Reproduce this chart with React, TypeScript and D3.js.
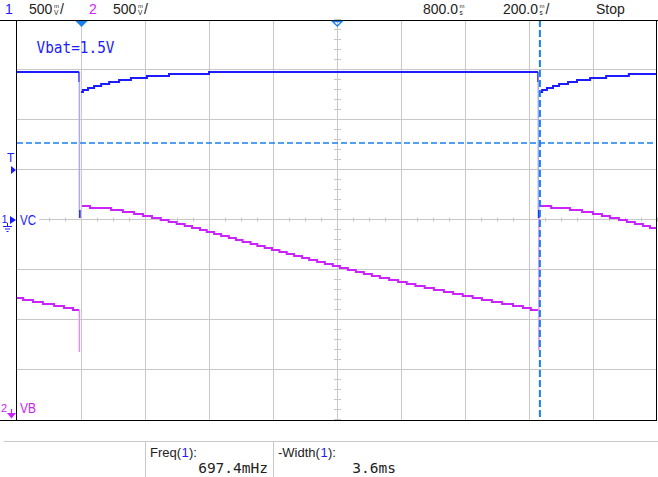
import { useEffect } from 'react'
import * as d3 from 'd3'

// Oscilloscope capture: time in ms, both channels in volts (500 mV/div)
type Pt = [number, number]

const ch1Pre: Pt[] = [[-200, 1.48], [-6, 1.48]]
const ch1Mid: Pt[] = [
  [0, 1.28], [6, 1.3], [22, 1.32], [41, 1.34], [63, 1.36], [88, 1.38],
  [119, 1.4], [156, 1.42], [206, 1.44], [275, 1.46], [400, 1.48], [1428, 1.48],
]
const ch1Post: Pt[] = [
  [1434, 1.28], [1441, 1.3], [1456, 1.32], [1475, 1.34], [1494, 1.36], [1522, 1.38],
  [1550, 1.4], [1591, 1.42], [1641, 1.44], [1712, 1.46], [1800, 1.46],
]

const ch2Pre: Pt[] = [
  [-200, 1.22], [-181, 1.2], [-150, 1.18], [-119, 1.16], [-84, 1.14], [-53, 1.12], [-25, 1.1], [-6, 1.1],
]
const ch2Mid: Pt[] = [
  [3, 2.14], [28, 2.12], [94, 2.1], [131, 2.08], [166, 2.06], [194, 2.04], [222, 2.02], [249, 2.0],
  [274, 1.98], [299, 1.96], [324, 1.94], [347, 1.92], [372, 1.9], [393, 1.88], [416, 1.86], [438, 1.84],
  [462, 1.82], [484, 1.8], [505, 1.78], [530, 1.76], [551, 1.74], [574, 1.72], [597, 1.7], [620, 1.68],
  [643, 1.66], [666, 1.64], [691, 1.62], [713, 1.6], [738, 1.58], [762, 1.56], [787, 1.54], [809, 1.52],
  [834, 1.5], [859, 1.48], [884, 1.46], [909, 1.44], [934, 1.42], [963, 1.4], [991, 1.38], [1018, 1.36],
  [1045, 1.34], [1074, 1.32], [1103, 1.3], [1134, 1.28], [1163, 1.26], [1193, 1.24], [1224, 1.22],
  [1253, 1.2], [1284, 1.18], [1316, 1.16], [1350, 1.14], [1381, 1.12], [1406, 1.1], [1428, 1.1],
]
const ch2Post: Pt[] = [
  [1434, 2.14], [1469, 2.12], [1528, 2.1], [1566, 2.08], [1600, 2.06], [1628, 2.04], [1653, 2.02],
  [1681, 2.0], [1706, 1.98], [1731, 1.96], [1756, 1.94], [1778, 1.92], [1800, 1.92],
]

// fast edges drawn faint by the scope
const ch1Edges = [
  { t: -5, lo: 0.02, hi: 1.48 },
  { t: 1429, lo: 0.02, hi: 1.48 },
]
const ch2Edges = [
  { t: -5, lo: 0.68, hi: 1.1 },
  { t: 1431, lo: 0.7, hi: 2.14 },
]

const triggerLevel = 0.77 // ch1 volts
const triggerMarker = 0.5 // "T" arrow on ch1 scale
const cursorTime = 1434
const delayTime = 800

const headerLabels = { ch1: '1', ch2: '2', scale: '500', delay: '800.0', timebase: '200.0', state: 'Stop' }
const measNames = ['Freq(', '-Width(']
const measValues = ['697.4mHz', '3.6ms']

const C1 = '#1c1cff'
const C2 = '#cc22ff'
const C1_PALE = '#aaaaf2'
const C2_PALE = '#e68cf6'
const MARK = '#1a7ff0'
const GRID = '#c8c8c8'
const INK = '#222'
const SANS = '"Liberation Sans", Arial, sans-serif'
const MONO = '"DejaVu Sans Mono", monospace'

// number followed by a stacked unit glyph (m over V / s)
function Reading({ x, value, top, bottom, slash }: { x: number; value: string; top: string; bottom: string; slash?: boolean }) {
  const w = value.length === 3 ? 24 : 35.5
  return (
    <g fill={INK} fontFamily={SANS}>
      <text x={x} y={14} fontSize={14}>{value}</text>
      <text x={x + w + 1} y={7.5} fontSize={6}>{top}</text>
      <text x={x + w + 1} y={15} fontSize={6.5}>{bottom}</text>
      {slash && <text x={x + w + 7} y={14} fontSize={14}>/</text>}
    </g>
  )
}

export default function App() {
  useEffect(() => {
    document.body.style.margin = '0'
    document.body.style.overflow = 'hidden'
  }, [])

  const width = 658
  const height = 477
  const left = 17
  const right = 657
  const top = 20
  const bottom = 420

  const x = d3.scaleLinear().domain([-200, 1800]).range([left, right])
  const y1 = d3.scaleLinear().domain([-2, 2]).range([bottom, top])
  const y2 = d3.scaleLinear().domain([0, 4]).range([bottom, top])

  const majorT = x.ticks(10).filter(t => t > -200 && t < 1800)
  const majorV = y1.ticks(8).filter(v => v > -2 && v < 2)
  const minorT = x.ticks(40)
  const minorV = y1.ticks(40)
  const cx = x(delayTime)
  const cy = y1(0)

  const line1 = d3.line<Pt>().x(d => x(d[0])).y(d => y1(d[1])).curve(d3.curveStepAfter)
  const line2 = d3.line<Pt>().x(d => x(d[0])).y(d => y2(d[1])).curve(d3.curveStepAfter)

  const tx = x(0)
  const trigY = y1(triggerMarker)

  return (
    <svg width={width} height={height} style={{ display: 'block', background: '#fff' }}>
      {/* header */}
      <g fontFamily={SANS} fontSize={14}>
        <text x={5} y={14} fill={C1}>{headerLabels.ch1}</text>
        <Reading x={29} value={headerLabels.scale} top="m" bottom="V" slash />
        <text x={89} y={14} fill={C2}>{headerLabels.ch2}</text>
        <Reading x={113} value={headerLabels.scale} top="m" bottom="V" slash />
        <Reading x={423} value={headerLabels.delay} top="m" bottom="s" />
        <Reading x={503} value={headerLabels.timebase} top="m" bottom="s" slash />
        <text x={596} y={14} fill={INK}>{headerLabels.state}</text>
      </g>

      {/* grid */}
      <g stroke={GRID} strokeWidth={1}>
        {majorT.map(t => (
          <line key={'vt' + t} x1={x(t) + 0.5} x2={x(t) + 0.5} y1={top} y2={bottom} />
        ))}
        {majorV.map(v => (
          <line key={'hv' + v} x1={left} x2={right} y1={y1(v) - 0.5} y2={y1(v) - 0.5} />
        ))}
        {minorT.map(t => (
          <line key={'mt' + t} x1={x(t) + 0.5} x2={x(t) + 0.5} y1={cy - 2.5} y2={cy + 1.5} />
        ))}
        {minorV.map(v => (
          <line key={'mv' + v} x1={cx - 3} x2={cx + 4} y1={y1(v) - 0.5} y2={y1(v) - 0.5} />
        ))}
      </g>

      {/* trigger level */}
      <line x1={left} x2={right} y1={y1(triggerLevel)} y2={y1(triggerLevel)}
        stroke={MARK} strokeWidth={1.4} strokeDasharray="6,3" />

      {/* faint fast edges */}
      {ch2Edges.map((e, i) => (
        <line key={'e2' + i} x1={x(e.t)} x2={x(e.t)} y1={y2(e.hi)} y2={y2(e.lo)}
          stroke={C2_PALE} strokeWidth={1.5} />
      ))}
      {ch1Edges.map((e, i) => (
        <g key={'e1' + i}>
          <line x1={x(e.t)} x2={x(e.t)} y1={y1(e.hi)} y2={y1(e.lo)} stroke={C1_PALE} strokeWidth={1.5} />
          <line x1={x(e.t) + 0.5} x2={x(e.t) + 0.5} y1={y1(e.lo + 0.08)} y2={y1(e.lo)} stroke={C1} strokeWidth={1.5} />
          <line x1={x(e.t) - 0.5} x2={x(e.t) - 0.5} y1={y1(e.hi)} y2={y1(e.hi - 0.1)} stroke={C1} strokeWidth={1} />
        </g>
      ))}

      {/* traces */}
      <g fill="none" strokeWidth={2}>
        {[ch2Pre, ch2Mid, ch2Post].map((s, i) => (
          <path key={'c2' + i} d={line2(s) ?? ''} stroke={C2} />
        ))}
        {[ch1Pre, ch1Mid, ch1Post].map((s, i) => (
          <path key={'c1' + i} d={line1(s) ?? ''} stroke={C1} />
        ))}
      </g>

      {/* cursor */}
      <line x1={x(cursorTime)} x2={x(cursorTime)} y1={top} y2={bottom}
        stroke={MARK} strokeWidth={2} strokeDasharray="7,3" />

      {/* frame */}
      <g stroke="#000" strokeWidth={1}>
        <line x1={0} x2={width} y1={top + 0.5} y2={top + 0.5} />
        <line x1={0} x2={right} y1={bottom + 0.5} y2={bottom + 0.5} />
        <line x1={left - 0.5} x2={left - 0.5} y1={top} y2={bottom + 1} />
        <line x1={right - 0.5} x2={right - 0.5} y1={top} y2={bottom + 1} />
      </g>

      {/* trigger position and delay markers */}
      <path d={`M${tx - 5.5},${top + 1}L${tx + 6.5},${top + 1}L${tx + 0.5},${top + 7}Z`} fill={MARK} />
      <path d={`M${cx - 4.5},${top + 1.5}L${cx + 5},${top + 1.5}L${cx + 0.3},${top + 6}Z`}
        fill="none" stroke={MARK} strokeWidth={1.3} />

      {/* left-side channel markers */}
      <text x={7} y={162} fill={C1} fontFamily={SANS} fontSize={12}>T</text>
      <path d={`M11,${trigY - 4}L16,${trigY}L11,${trigY + 4}Z`} fill={C1} />

      <rect x={left} y={cy - 9} width={22} height={18} fill="#fff" />
      <text x={1.5} y={cy + 3} fill={C1} fontFamily={SANS} fontSize={11}>1</text>
      <path d={`M10,${cy - 4}L16,${cy}L10,${cy + 4}Z`} fill={C1} />
      <g stroke={C1} strokeWidth={1}>
        <line x1={7.5} x2={7.5} y1={cy + 3} y2={cy + 6} />
        <line x1={3} x2={12} y1={cy + 6.5} y2={cy + 6.5} />
        <line x1={5} x2={10} y1={cy + 9} y2={cy + 9} />
        <line x1={6.5} x2={8.5} y1={cy + 11.5} y2={cy + 11.5} />
      </g>
      <text x={20} y={cy + 5} fill={C1} fontFamily={SANS} fontSize={14}
        textLength={16} lengthAdjust="spacingAndGlyphs">VC</text>

      <text x={1} y={bottom - 8} fill={C2} fontFamily={SANS} fontSize={11}>2</text>
      <line x1={11.5} x2={11.5} y1={bottom - 11} y2={bottom - 6} stroke={C2} strokeWidth={1.2} />
      <path d={`M7,${bottom - 7}L16,${bottom - 7}L11.5,${bottom - 1.5}Z`} fill={C2} />
      <text x={20} y={bottom - 7} fill={C2} fontFamily={SANS} fontSize={14}
        textLength={16} lengthAdjust="spacingAndGlyphs">VB</text>

      <text x={36.5} y={53} fill={C1} fontFamily={MONO} fontSize={16}
        textLength={78} lengthAdjust="spacingAndGlyphs">Vbat=1.5V</text>

      {/* measurement bar */}
      <g stroke={GRID} strokeWidth={1}>
        <line x1={4} x2={width} y1={441.5} y2={441.5} />
        <line x1={145.5} x2={145.5} y1={442} y2={height} />
        <line x1={273.5} x2={273.5} y1={442} y2={height} />
      </g>
      <g fontFamily={SANS} fontSize={13} fill={INK}>
        <text x={150} y={457}>{measNames[0]}</text>
        <text x={181.5} y={457} fill={C1}>1</text>
        <text x={189} y={457}>):</text>
        <text x={278} y={457}>{measNames[1]}</text>
        <text x={320.5} y={457} fill={C1}>1</text>
        <text x={328} y={457}>):</text>
      </g>
      <g fontFamily={MONO} fontSize={14.5} fill={INK} textAnchor="end">
        <text x={268} y={473}>{measValues[0]}</text>
        <text x={396} y={473}>{measValues[1]}</text>
      </g>
    </svg>
  )
}
